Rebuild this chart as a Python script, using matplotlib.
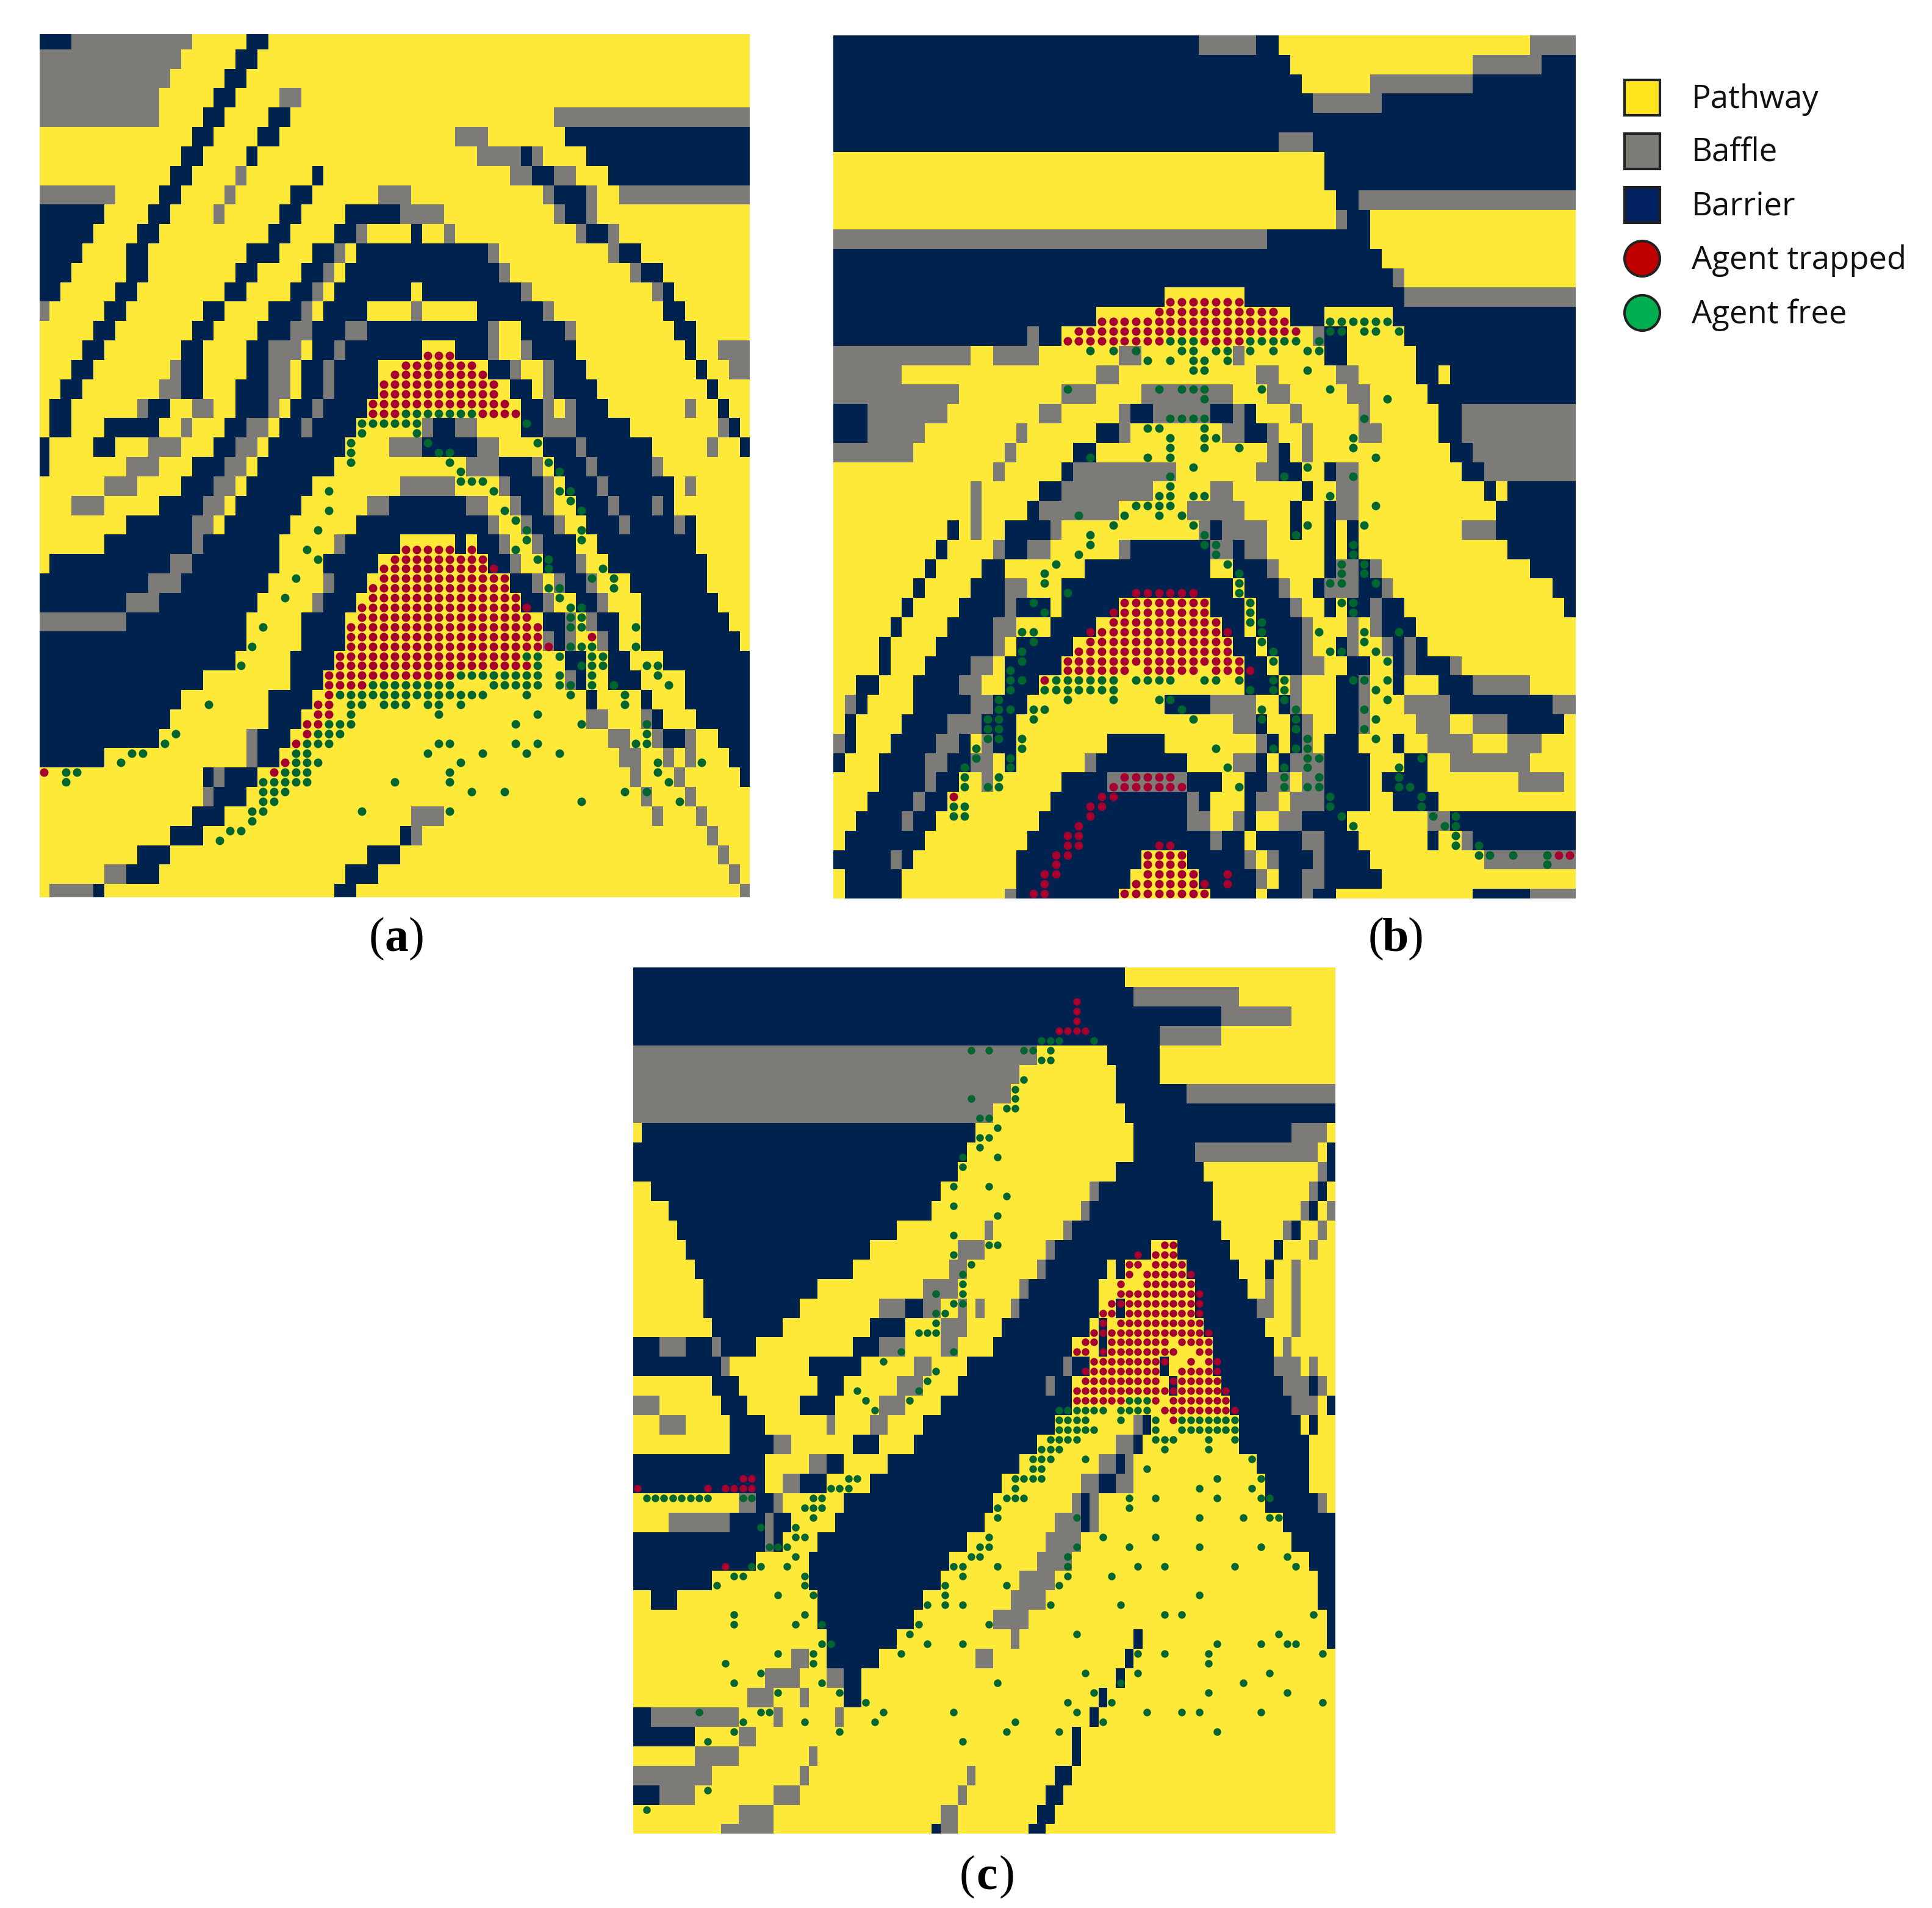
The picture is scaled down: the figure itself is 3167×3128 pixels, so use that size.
import numpy as np
import matplotlib
matplotlib.use("Agg")
import matplotlib.pyplot as plt
from matplotlib.colors import ListedColormap
from matplotlib.patches import Rectangle, Circle

W, H = 3167, 3128
CATS = ["Barrier", "Baffle", "Pathway"]
CODE = {"N": 0, "G": 1, "Y": 2}

# Facies rows: each entry is one pair of grid rows, letter = facies, number = column where it ends
A_ROWS = [
"N3 G14 Y19 N21 Y65","G13 Y18 N20 Y65","G12 Y17 N19 Y65","G11 Y16 N18 Y22 G24 Y65",
"G11 Y15 N17 Y21 N23 Y47 G65","Y14 N16 Y20 N22 Y38 G41 Y48 N65","Y13 N15 Y19 N20 Y40 G44 N45 G46 Y50 N65",
"Y12 N14 Y18 G19 Y25 N26 Y43 G45 N47 G49 Y52 N65","G7 Y11 N13 Y17 G18 Y23 N25 Y31 G34 Y46 G47 N50 G51 Y53 G65",
"N6 Y10 N12 Y16 G17 Y22 N24 Y28 N33 G37 Y47 G48 N50 G51 Y65","N5 Y9 N11 Y21 N23 Y27 N29 G30 Y34 N35 Y37 G38 Y49 G50 N52 G53 Y65",
"N4 Y8 N10 Y19 N22 Y25 N27 G28 Y29 N41 G42 Y52 G53 N55 Y65","N3 Y8 N10 Y18 N20 Y24 N26 G27 Y28 N42 G43 Y54 G55 N57 Y65",
"N2 Y7 N9 Y17 N19 Y23 N25 G26 Y27 N34 Y35 N44 G45 Y56 G57 N58 Y65","G1 Y6 N8 Y15 N17 Y21 N24 G25 Y26 N30 Y34 G35 Y40 N46 G47 Y57 N59 Y65",
"Y5 N7 Y14 N16 Y20 N23 G25 N28 G30 N41 G42 Y44 N48 G49 Y58 N60 Y65","Y4 N6 Y13 N15 Y19 N21 G24 Y25 N27 G28 N35 Y38 N41 G42 Y44 G45 N49 Y59 N60 Y62 G65",
"Y3 N5 Y12 G13 N15 Y19 N21 G23 Y24 N26 G27 N31 Y41 N43 G44 Y46 G47 N50 Y60 N61 Y63 G65","Y2 N4 Y11 G13 N15 Y18 N21 G23 Y24 N26 G27 N31 Y43 N45 Y46 G47 N51 Y61 N62 Y65",
"Y1 N3 Y9 G10 N12 Y14 G16 Y18 N21 G22 Y23 N25 G26 N30 Y44 N46 G47 Y48 G49 N52 Y59 G60 Y62 N63 Y65","Y1 N3 Y6 N11 Y13 G14 Y17 N19 G21 Y22 N24 G25 N29 Y35 G36 N38 G40 Y44 N46 G49 N54 Y62 G63 N64 Y65",
"N1 Y5 N7 Y10 G13 Y16 N18 G20 Y21 N28 Y32 G35 N40 G42 Y46 N49 G50 N56 Y61 G62 Y64 N65","N1 Y8 G11 Y14 N17 G19 Y20 N27 Y39 G42 N45 G46 Y47 N50 G51 N56 G57 Y65",
"Y6 G9 Y13 N16 G18 Y19 N25 Y33 G38 Y42 G43 N46 G47 Y48 N51 G52 N58 Y59 G60 Y65","Y3 G6 Y11 N15 G17 Y18 N24 Y30 G32 N39 G41 Y43 G44 N46 G47 Y49 N52 G53 N56 G57 N58 Y65",
"Y8 N14 G16 Y17 N23 Y29 N41 G42 Y44 G45 N47 G48 Y50 N53 G54 N58 G59 N60 Y65","Y6 N14 G15 N22 Y27 G28 N33 Y38 N39 Y40 N42 G43 Y45 G46 N49 Y51 N60 Y65",
"Y1 N12 G14 N22 Y26 N31 Y41 N43 G44 Y46 N49 G50 Y52 N61 Y65","N10 G13 N21 Y26 G27 N30 Y43 N45 G46 Y47 G48 N50 G51 Y54 N61 Y65",
"N8 G11 N20 Y25 G26 N29 Y44 N46 G47 Y49 N51 G52 Y55 N62 Y65","G8 N19 Y24 N28 Y46 N48 G49 Y50 G51 N53 Y55 N63 Y65",
"N19 Y24 N28 Y46 G47 N48 G49 Y51 G52 N53 Y55 N64 Y65","N18 Y23 N27 Y48 N50 Y52 N54 Y57 N65",
"N15 Y23 N26 Y48 G49 N50 Y52 N55 Y59 N65","N13 Y21 N25 Y50 N51 Y55 N56 Y59 N65",
"N12 Y21 N24 Y50 G52 Y55 G56 N57 Y60 N65","N11 Y19 G20 N23 Y52 G54 Y56 G57 N59 G60 Y62 N65",
"N6 Y19 G20 N22 Y53 G55 Y57 G58 Y59 G60 Y63 N65","Y15 N16 G17 N20 Y54 G55 Y58 G59 Y64 N65",
"Y15 G16 N19 Y55 G56 Y59 G60 Y65","Y14 N17 Y34 G37 Y56 G57 Y60 G61 Y65",
"Y12 N15 Y33 N34 G35 Y61 G62 Y65","Y9 N12 Y30 N33 Y62 G63 Y65","Y6 G8 N11 Y28 N31 Y63 G64 Y65","Y1 G5 N6 Y27 N29 Y64 G65",
]
A_TRAPPED = ("33:35-37 34:33-39 35:32-40 36:31-41 37:31-41 38:30-42 39:30-32,40-43 53:33-37,39 54:32-40 55:31-41 56:31-42 "
"57:30-42 58:30-43 59:29-44 60:29-44 61:28-45 62:28-45,50 63:28-46 64:27-43 65:27-44 66:26-37 67:26-29 68:26 69:25-26 "
"70:25-26 71:24-25 72:24 73:23 75:22 76:0,21")
A_FREE = ("39:33-39 40:29-34,44 41:29,34 42:28,35,45 43:28,36,37 44:28,37,46 45:38,47 46:38-40 47:26,41,47,48 48:48 49:26,42,49 "
"50:43 51:25,44,49 52:44,49 53:24,43 54:25,45,46 55:46,51 56:23,50,52 57:46,47,52 58:22,47 59:48,49 60:48,49 61:20,48,49,54 "
"63:19,48,49,50,54 64:44,45,47,50,51 65:18,45,49-51,55,56 66:38-45,47,50,56 67:30-37,41-45,47,48,50,52,57 68:27-40,44,48,53 "
"69:15,28,29,31-33,35,36,38,53 70:28,36,45 71:26-28,43,49,55 72:12,25-27,55 73:11,24-26,36,37,43,45,54,55 "
"74:8,9,23,24,35,40,44,47 75:7,23-25,38,56,60 76:2,3,22-24,37,56 77:2,20-24,32,37,57 78:20-22,39,42,53,55 79:20,21,49,58 "
"80:19,20,29,37 81:19 82:17,18 83:16")

B_ROWS = [
"N32 G37 N39 Y61 G65","N40 Y56 G62 N65","N41 Y47 G56 N65","N42 G48 N65","N65","N39 G42 N65","Y43 N65","Y43 N65",
"Y44 N46 G65","Y44 G45 N47 Y65","G38 N47 Y65","N48 Y65","N49 G50 Y65","N29 Y36 N50 G65","N23 Y40 N43 Y49 N65",
"N17 G18 N20 Y42 G43 N45 Y50 N65","G12 Y14 G18 Y25 G27 Y35 G36 Y43 N45 Y51 N65","G6 Y23 G25 Y37 G39 Y44 G46 Y51 N53 Y54 N65",
"G11 Y20 G23 Y27 G35 Y38 G40 Y45 G47 Y52 N65","N3 G10 Y18 G20 Y25 G26 N28 G33 N35 G36 N37 Y40 G41 Y46 G47 Y53 N55 G65",
"N3 G8 Y16 G17 Y23 N25 G26 Y34 G36 N38 G39 Y41 G42 Y46 G48 Y53 N55 G65","G7 Y15 G16 Y21 N23 Y38 G39 N40 Y41 G42 Y54 N56 G65",
"Y14 G15 Y20 N21 G30 Y37 G39 N41 Y43 N44 G46 Y55 N57 G65","Y12 G13 Y18 N20 G28 Y33 G35 Y41 N42 Y44 G46 Y57 N58 Y59 N65",
"Y12 G13 Y17 N18 G25 Y31 G36 Y40 N41 Y43 N44 G46 Y58 N65","Y10 N11 Y12 G13 Y15 N19 G20 Y32 G33 N34 G38 Y40 N41 Y43 N44 Y45 N46 Y55 G58 N65",
"Y9 N10 Y14 G15 N17 G19 Y25 G26 N33 G35 N36 G38 Y43 N44 Y45 N46 Y59 N65","Y8 N9 Y13 N15 Y22 N33 Y35 N38 G39 Y43 N44 G46 N47 G48 Y61 N65",
"Y7 N8 Y12 N15 G17 Y20 N35 Y36 N39 G40 Y42 N43 G46 N48 G49 Y63 N65","Y6 N7 Y11 N15 G16 N19 Y20 N25 Y33 N36 Y37 N40 G41 Y43 N44 Y45 N47 G48 N50 Y64 N65",
"Y5 N6 Y10 N14 G16 Y19 N23 Y34 N36 Y37 N41 G42 Y45 G46 Y47 G48 N51 Y65","Y4 N5 Y9 N14 G15 Y16 N21 Y35 N37 Y38 N41 G42 Y44 N45 G46 Y48 G49 N50 G51 N52 Y65",
"Y4 N5 Y8 N12 G14 Y15 N20 Y36 N38 Y39 N41 G43 Y45 N47 Y49 N50 G51 N54 G55 Y65","Y2 N4 Y7 N11 G13 Y15 N18 Y36 N39 Y40 G41 Y44 N46 G47 Y49 N50 Y53 N56 G61 Y65",
"Y1 G2 N3 Y7 N12 G14 N17 Y29 N33 G37 Y39 N40 G41 Y44 N46 G47 Y50 G54 N63 G65","Y1 N2 Y6 N10 G13 N16 Y35 G37 N38 Y40 N41 G42 Y44 N46 G47 Y51 G54 Y56 G59 N64 Y65",
"G1 N2 Y5 N9 G11 N12 Y13 G14 N16 Y24 N29 Y37 G38 N39 Y40 N41 G42 Y43 N46 Y49 N50 Y52 G56 Y59 G62 Y65","N1 Y4 N8 G10 N12 G14 Y15 N16 Y22 G23 N31 Y35 G37 N38 Y39 N40 G43 N47 Y50 N52 Y54 G61 Y65",
"Y4 N8 G9 N11 Y13 G14 Y20 N24 G31 N34 Y36 N38 G40 Y41 G43 N47 Y48 N52 Y60 G64 Y65","Y3 N7 G8 N10 Y19 N31 G32 N33 Y36 N37 G39 Y40 G43 N47 Y49 N53 Y65",
"Y2 N6 G7 N9 Y18 N31 G33 Y35 G36 N37 Y39 G41 N45 Y52 G54 N65","Y1 N8 Y17 N33 G34 N36 Y37 N41 G43 N46 Y52 N53 Y55 G56 N65",
"N5 G6 N7 Y16 N27 Y31 N36 G37 Y38 G39 N42 G43 N47 Y57 G65","Y1 N6 Y16 N26 Y32 N37 G38 Y39 N41 G43 N48 Y65","Y1 N6 Y15 G16 N25 Y33 N37 Y38 N41 G42 N44 Y56 N61 G65",
]
B_TRAPPED = ("27:29-35 28:28-38 29:23-39 30:21-40 31:20-28,32-35 57:26-31 58:25-32 59:24-32 60:24-33 61:22-34 62:22-34 63:21-34 "
"64:20-35 65:20-25,27-31,33-36 66:18 76:25-29 77:24-30 78:10,23,24 79:22,23 80:22 81:21 82:20,21 83:20,21,28,29 "
"84:19,20,27-30,63,64 85:19,27-30 86:18,19,27-31,34 87:18,26-32,34 88:17,18,25-32")
B_FREE = ("29:43-48 30:43,44,46,47,49 31:29-31,36-40,42 32:22,24,26,30,31,33,34,36,38,41,42 33:27,29,31,32,34 34:31,32,41 "
"36:20,28,30-32,37,43 37:32,48 39:29-32,46 40:27,28,32 41:29,32,33,45 42:29,32,35,45 43:22,27,29,47 44:31,41 45:29,39,45 46:29 "
"47:28,29,31,32,43 48:26-29,47 49:21,25,28,30 50:24,31,41,46 51:22,32,40 52:22,32,33,45 53:21,33,45 54:19,34,44,46 55:18,35,44,46 "
"56:18,35,43,44,47 57:20,35 58:17,36,44,45 59:18,36,45 60:36,37 61:16,17,37,42,46,49 62:17,37,46 63:16,38,43,44,47 64:16,38,48 "
"65:15 66:15,16,19-24,26-29,32,33,35,38,39,45,46,48 67:15,18-24,36,38,39,47 68:14,20,24,28,29,39,48 69:14,15,17,18,30,37,40,46 "
"70:13,14,17,31,37,40,47 71:13,14,40,46 72:13,14,16,41,47 73:12,16,33,38,40,41 74:12,15,41,42,51 75:11,15,34,39,41,49 76:11,14,39,42,49 "
"77:11,13,14,35,39,41,42,49,50 78:43,51 79:10,11,43,51 80:10,11,44,52,54 81:45,53,54 82:54 83:54,56 84:56,57,59,62 85:62")

C_ROWS = [
"N56 Y80","N57 G69 Y80","N67 G75 Y80","N60 G67 Y80","G46 Y54 N60 Y80","G44 Y55 N60 Y80","G43 Y55 N63 G80","G41 Y56 N80",
"Y1 N39 Y57 N75 G79 Y80","N38 Y57 N64 G78 Y79 N80","N37 Y55 N65 Y78 G79 N80","Y2 N35 Y52 G53 N66 Y77 G78 N79 Y80",
"Y4 N34 Y51 G52 N66 Y76 G77 N78 Y79 G80","Y5 N30 Y40 G41 Y49 G50 N67 Y74 G75 N76 Y78 G79 Y80","Y6 N27 Y37 G40 Y47 G48 N59 Y62 N68 Y73 N74 Y77 G78 Y80",
"Y7 N25 Y36 G38 Y46 G47 N54 Y55 N56 Y63 N69 Y72 N73 Y75 G76 Y80","Y8 N21 Y33 G37 Y44 G45 N53 Y64 N70 Y72 G73 Y75 G76 Y80",
"Y8 N19 Y28 G31 N33 G35 Y37 G38 Y39 G40 Y43 G44 N53 Y55 N56 Y64 N71 G73 Y75 G76 Y80","Y9 N17 Y27 N31 Y35 G38 Y42 N52 Y53 N54 Y65 N72 Y75 G76 Y80",
"N3 G6 N9 G10 N14 Y25 N28 G31 Y35 G37 Y41 N50 Y53 N54 Y66 N73 Y74 G75 Y80","N10 G11 Y20 N26 Y32 G34 Y38 N49 G50 N52 Y60 N61 Y66 N73 G76 Y77 G78 Y80",
"Y9 N12 Y21 N24 Y30 G33 Y37 N47 G48 N50 Y61 N62 Y67 N74 G77 N78 G79 Y80","G3 Y10 N13 Y19 N23 Y28 G31 Y35 N50 Y68 N75 G78 Y79 N80",
"Y3 G6 Y11 N15 Y22 G23 Y27 G29 Y33 N48 Y57 G58 N59 Y69 N76 Y77 N78 Y80","Y11 N16 G18 Y25 N28 Y32 N46 Y55 G57 N58 Y69 N77 Y80",
"N15 Y20 G22 N24 Y29 N44 Y53 G55 N56 G57 Y71 N77 Y80","N15 Y17 G19 N22 Y27 N42 Y51 G53 N55 G57 Y72 N77 Y80","Y12 G14 N16 G17 Y24 N41 Y50 G51 N52 G53 Y72 N78 G79 Y80",
"Y4 G11 N15 G16 N18 Y23 N40 Y48 G51 N52 G53 Y74 N80","N15 G16 N17 Y21 N38 Y47 G51 Y75 N80","N14 Y20 N36 Y46 G50 Y77 N80","N9 Y20 N35 Y44 G48 Y78 N80",
"Y2 N5 Y21 N33 Y43 G47 Y78 N80","Y21 N32 Y41 G45 Y79 N80","Y22 N30 Y43 G44 Y57 N58 Y79 N80","Y18 G20 Y22 N28 Y39 G41 Y56 N57 Y80",
"Y15 G19 Y22 G24 N26 Y55 N56 Y80","Y13 G16 Y19 G20 Y24 N26 Y53 N54 Y80","N2 G12 Y16 G17 Y23 G24 Y52 N53 Y80","N7 Y12 G14 Y50 N51 Y80",
"Y7 G12 Y20 G21 Y50 N51 Y80","G9 Y19 G20 Y38 G39 Y48 N50 Y80","N3 G7 Y16 G19 Y37 G38 Y47 N49 Y80","Y12 G16 Y35 G37 Y46 N48 Y80","Y10 G16 Y34 N35 G37 Y45 N47 Y80",
]
C_TRAPPED = ("3:50 4:50 5:50 6:48-51 28:60,61 29:57,59-61 30:56,57,59-62 31:56,58-63 32:55,58-63 33:55-64 34:54-64 35:53,54,56-64 36:53,55-64 "
"37:52,53,54-65 38:51,52,54-60,62-65 39:50,51,53-61,64,65 40:52-60,63,65,66 41:51-59,62-64,65,66 42:51-59,61-66 43:50-60,61-67 44:50-55,59,61-67 "
"45:60-68 46:61 53:0,8,10-13 52:12,13 61:10")
C_FREE = ("7:46-48,52 8:38,40,44,45,47 9:46,47 11:44 12:43 13:38,43 14:42,43 15:39,40 16:41 17:39,40 18:39 19:37,41 20:37 22:36,40 23:42 24:36 25:41 27:36 "
"28:40,41 29:36 30:38 31:37 32:37 33:34,37 34:36,37 35:34,35 36:34 37:32-34 39:30,36 40:28 41:34 42:33 43:25,32 44:26,31,56-58 "
"45:27,48-53,55-58 46:48-51,55,59,62-68 47:48-52,59,62-68 48:47-50,59-61,65,68 49:46-48,60,65 50:45-47,51,70 51:45,46,58 52:24,25,44-46,43,66,71 "
"53:22-24,43,64,70 54:1-8,12,13,20,21,42-44,56,59,66,71,72 55:19-21,41,56 56:20,41,50,64,69,72,73 57:14,18 58:18,19,40,53,59 59:15-17,39,40,50,56,64,71 "
"60:18,38,39,49,74 61:13,14,17,36,37,41,49,57,60,68,75 62:11,12,19,37,49,54 63:9,19,35,42,48 64:16,20,35,64 65:33,35,37,47,55 66:11,19,60,62,77 "
"67:11,18,21,32,40 68:31,50,73 69:21,22,33,37,66,71,74,75 70:16,20,30,57,60,65,78 71:10,20,65 72:14,51,57,72 73:11,21,41,55,69 74:16,23,52,65,74 "
"75:26,49,54,78 76:7,14,15,28,36,50,58,62,64,71 77:12,19,27,43,53 78:11,23,42,48,66 79:8,37 84:8 86:1")

LEGEND_LABELS = ["Pathway", "Baffle", "Barrier", "Agent trapped", "Agent free"]
PANEL_LABELS = ["a", "b", "c"]

FACIES = ListedColormap(["#00224E", "#7C7B78", "#FEE838"])
DOT_T, DOT_F = "#A6002E", "#00652F"


def grid_from(rows, ncols):
    out = []
    for line in rows:
        r = np.zeros(ncols, dtype=int)
        start = 0
        for tok in line.split():
            end = int(tok[1:])
            r[start:end] = CODE[tok[0]]
            start = end
        out += [r, r]
    return np.array(out)


def dots_from(text):
    xs, ys = [], []
    for part in text.split():
        r, spans = part.split(":")
        for s in spans.split(","):
            a, _, b = s.partition("-")
            for c in range(int(a), int(b or a) + 1):
                xs.append(c + .5)
                ys.append(int(r) + .5)
    return np.array(xs), np.array(ys)


fig = plt.figure(figsize=(W / 100, H / 100), dpi=100, facecolor="white")


def panel(rows, trapped, free, ncols, box, x0, cw, y0, ch, dot):
    L, T, R, B = box
    ax = fig.add_axes([L / W, 1 - B / H, (R - L) / W, (B - T) / H])
    g = grid_from(rows, ncols)
    ax.imshow(g, cmap=FACIES, vmin=0, vmax=2, interpolation="nearest", aspect="auto",
              extent=(0, ncols, g.shape[0], 0))
    for txt, col in ((trapped, DOT_T), (free, DOT_F)):
        x, y = dots_from(txt)
        ax.scatter(x, y, s=(dot * .72) ** 2, c=col, linewidths=0, zorder=3)
    ax.set_xlim((L - x0) / cw, (R - x0) / cw)
    ax.set_ylim((B - y0) / ch, (T - y0) / ch)
    ax.axis("off")


panel(A_ROWS, A_TRAPPED, A_FREE, 65, (65, 56, 1229, 1471), 63, 17.97, 50, 15.9, 14)
panel(B_ROWS, B_TRAPPED, B_FREE, 65, (1366, 56, 2583, 1473), 1366, 18.72, 58, 15.9, 14)
panel(C_ROWS, C_TRAPPED, C_FREE, 80, (1038, 1586, 2189, 3006), 1038, 14.39, 1586, 15.96, 12.5)

ov = fig.add_axes([0, 0, 1, 1])
ov.set_xlim(0, W)
ov.set_ylim(H, 0)
ov.axis("off")
ov.patch.set_alpha(0)

tops = [131, 219, 307, 395, 484]
fills = ["#FFE51E", "#7C7B75", "#002060", "#C00000", "#00B050"]
for i, (lab, t, f) in enumerate(zip(LEGEND_LABELS, tops, fills)):
    if i < 3:
        ov.add_patch(Rectangle((2663, t), 58, 58, fc=f, ec="#222222", lw=3))
    else:
        ov.add_patch(Circle((2692, t + 29), 29, fc=f, ec="#222222", lw=3))
    ov.text(2773, t + 32, lab, fontsize=38, family="Open Sans", color="#111111", va="center", ha="left")

for lab, cx, cy in zip(PANEL_LABELS, [650, 2288, 1618], [1540, 1540, 3078]):
    ov.text(cx - 20, cy, "(", fontsize=56, family="Liberation Serif", ha="right", va="center", color="black")
    ov.text(cx, cy, lab, fontsize=56, family="Liberation Serif", weight="bold", ha="center", va="center", color="black")
    ov.text(cx + 20, cy, ")", fontsize=56, family="Liberation Serif", ha="left", va="center", color="black")

fig.savefig("out.png", dpi=100, facecolor="white")
